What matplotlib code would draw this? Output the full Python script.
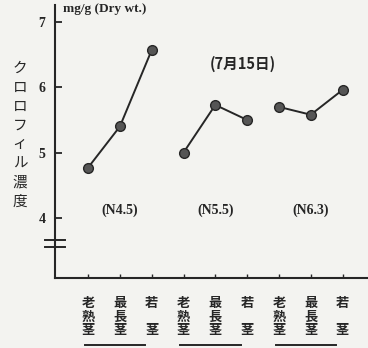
import numpy as np
import matplotlib.pyplot as plt
from matplotlib.transforms import blended_transform_factory

plt.rcParams['font.family'] = ['Noto Sans CJK JP', 'DejaVu Sans']

# chlorophyll content by stem type, three nitrogen levels
groups = ['(N4.5)', '(N5.5)', '(N6.3)']
n45 = [4.77, 5.40, 6.57]
n55 = [5.00, 5.73, 5.50]
n63 = [5.70, 5.58, 5.96]
stem_labels = ['老\n熟\n茎', '最\n長\n茎', '若\n\n茎']
yticks = [4, 5, 6, 7]

bg = '#f3f3f0'
ink = '#262626'

fig = plt.figure(figsize=(3.68, 3.48), dpi=100, facecolor=bg)
ax = fig.add_axes([55 / 368, 70 / 348, 313 / 368, 273 / 348], facecolor=bg)

series = [n45, n55, n63]
for i, vals in enumerate(series):
    xs = np.arange(3) + 3 * i
    ax.plot(xs, vals, color=ink, lw=1.4, marker='o', ms=7,
            mfc='#555555', mec=ink, mew=1.0, zorder=3)

ax.set_xlim(-1.04, 8.8)
ax.set_ylim(3.08, 7.26)

for s in ['top', 'right']:
    ax.spines[s].set_visible(False)
for s in ['left', 'bottom']:
    ax.spines[s].set_color(ink)
    ax.spines[s].set_linewidth(1.5)

ax.set_yticks(yticks)
ax.set_yticklabels([str(t) for t in yticks], fontfamily='Liberation Serif',
                   fontweight='bold', fontsize=10, color=ink)
ax.tick_params(axis='y', direction='in', length=5, width=1.3, color=ink, pad=7)

ax.set_xticks(range(9))
ax.set_xticklabels([])
ax.tick_params(axis='x', direction='in', length=3, width=1.0, color=ink)

# stacked vertical tick labels under each point
trans = blended_transform_factory(ax.transData, ax.transAxes)
for i in range(9):
    ax.text(i, -0.065, stem_labels[i % 3], transform=trans, ha='center', va='top',
            fontsize=9.5, fontweight='bold', color=ink, linespacing=0.98)

# group underlines
for i in range(3):
    ax.plot([3 * i - 0.1, 3 * i + 1.8], [-0.245, -0.245], transform=trans,
            color=ink, lw=1.4, clip_on=False)

# axis break marks
for yb in [0.139, 0.112]:
    ax.plot([-0.032, 0.032], [yb, yb], transform=ax.transAxes, color=ink,
            lw=1.4, clip_on=False)

# annotations
ax.text(0.025, 0.985, 'mg/g (Dry wt.)', transform=ax.transAxes, ha='left', va='center',
        fontfamily='Liberation Serif', fontweight='bold', fontsize=9.5, color=ink)
ax.text(0.6, 0.785, '(7月15日)', transform=ax.transAxes, ha='center', va='center',
        fontsize=10.5, fontweight='bold', color=ink)
for i, g in enumerate(groups):
    ax.text(3 * i + 1, 4.12, g, ha='center', va='center',
            fontfamily='Liberation Serif', fontweight='bold', fontsize=10, color=ink)

fig.text(20 / 368, 1 - 135 / 348, '\n'.join('クロロフィル濃度'), ha='center', va='center',
         fontsize=10.5, color=ink, linespacing=1.45)

fig.savefig('out.png', dpi=100, facecolor=bg)
